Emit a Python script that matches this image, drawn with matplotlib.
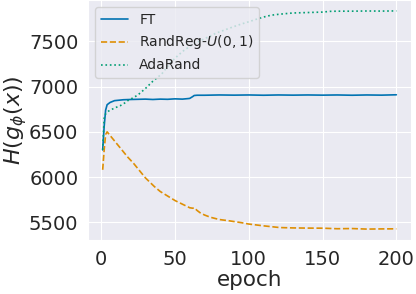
import matplotlib
matplotlib.use("Agg")
import matplotlib.pyplot as plt
import seaborn as sns

# values
ft_epoch = [1, 2, 3, 4, 6, 9, 12, 15, 20, 25, 30, 35, 40, 45, 50, 55, 59, 60, 62, 63, 65,
            70, 80, 90, 100, 110, 120, 130, 140, 150, 160, 170, 180, 190, 200]
ft_val = [6300, 6560, 6740, 6800, 6825, 6845, 6850, 6855, 6858, 6860, 6862, 6858, 6862, 6860,
          6865, 6862, 6868, 6870, 6890, 6902, 6905, 6905, 6908, 6906, 6908, 6905, 6908, 6906,
          6908, 6906, 6908, 6905, 6908, 6906, 6910]

rr_epoch = [1, 2, 3, 4, 6, 10, 14, 18, 22, 25, 30, 36, 40, 45, 50, 55, 60, 62, 63, 65, 67,
            70, 74, 80, 87, 95, 100, 110, 121, 130, 140, 150, 160, 170, 180, 190, 200]
rr_val = [6080, 6300, 6470, 6500, 6460, 6380, 6300, 6220, 6150, 6090, 5990, 5895, 5840, 5790,
          5740, 5700, 5660, 5655, 5660, 5630, 5605, 5580, 5555, 5530, 5515, 5495, 5480, 5460,
          5441, 5437, 5435, 5434, 5428, 5430, 5424, 5426, 5427]

ada_epoch = [1, 2, 3, 5, 8, 10, 13, 16, 18, 22, 25, 30, 35, 41, 47, 52, 56, 60, 65, 70, 78,
             85, 90, 95, 100, 105, 110, 115, 120, 125, 130, 140, 150, 155, 160, 170, 180, 190, 200]
ada_val = [6300, 6650, 6700, 6730, 6755, 6770, 6790, 6820, 6845, 6880, 6910, 6980, 7060, 7140,
           7265, 7345, 7400, 7445, 7490, 7530, 7593, 7635, 7665, 7693, 7718, 7745, 7770, 7790,
           7800, 7808, 7815, 7820, 7825, 7833, 7835, 7835, 7837, 7836, 7838]

sns.set_style("darkgrid")
colors = sns.color_palette("colorblind")

fig, ax = plt.subplots(figsize=(4.16, 2.94), dpi=100)
fig.subplots_adjust(left=88/416, right=411/416, top=1.0, bottom=54/294)

ax.plot(ft_epoch, ft_val, color=colors[0], linestyle="-", linewidth=1.2, label="FT")
ax.plot(rr_epoch, rr_val, color=colors[1], linestyle="--", linewidth=1.2,
        label=r"RandReg-$U(0,1)$")
ax.plot(ada_epoch, ada_val, color=colors[2], linestyle=":", linewidth=1.2, label="AdaRand")

ax.set_xticks([0, 50, 100, 150, 200])
ax.set_yticks([5500, 6000, 6500, 7000, 7500])
ax.tick_params(labelsize=14)
ax.set_xlabel("epoch", fontsize=15.5, labelpad=1)
ax.set_ylabel(r"$H(g_\phi(x))$", fontsize=16, labelpad=0)
ax.legend(loc="upper left", fontsize=10)

plt.savefig("out.png", dpi=100)
